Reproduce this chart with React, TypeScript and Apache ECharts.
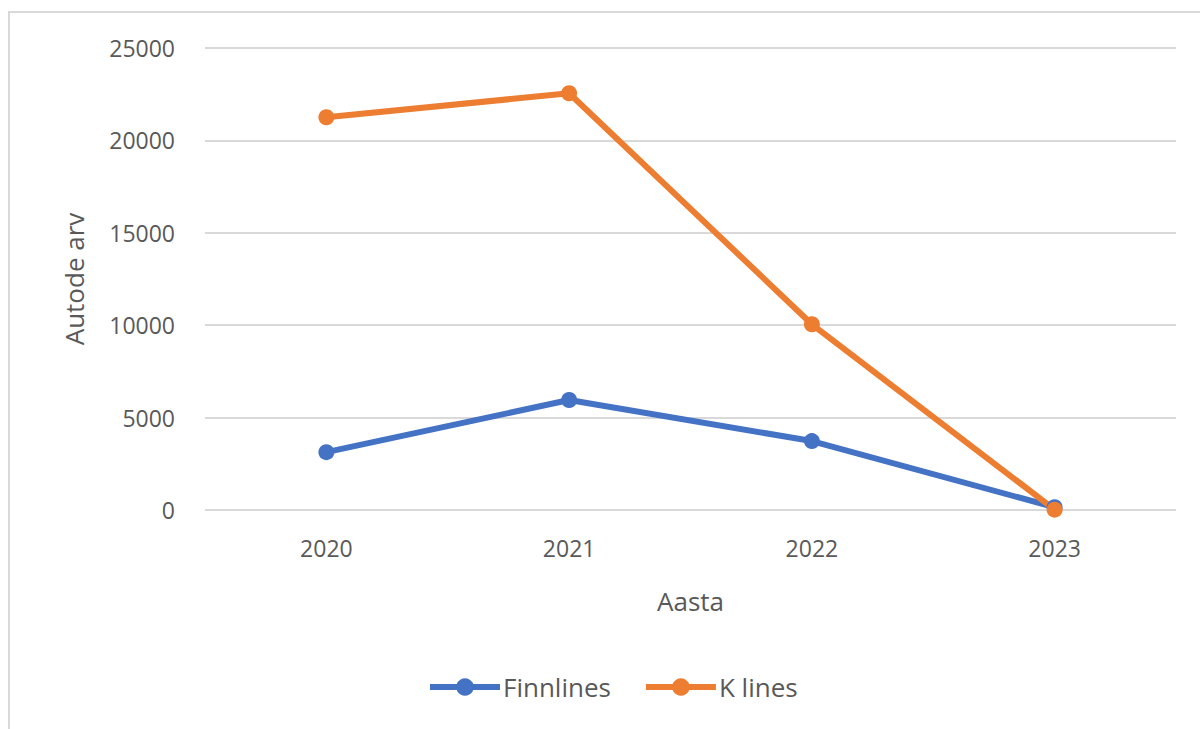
import React, { useEffect, useRef } from "react";
import * as echarts from "echarts";

const years = ["2020", "2021", "2022", "2023"];
const finnlines = [3130, 5950, 3730, 150];
const kLines = [21250, 22550, 10050, 20];

export default function App() {
  const ref = useRef<HTMLDivElement>(null);
  useEffect(() => {
    const chart = echarts.init(ref.current!, null, { renderer: "svg" });
    const font = "'Open Sans', sans-serif";
    chart.setOption({
      animation: false,
      backgroundColor: "#ffffff",
      graphic: [
        {
          type: "rect",
          shape: { x: 9, y: 12, width: 1200, height: 730 },
          style: { fill: "none", stroke: "#d9d9d9", lineWidth: 2 },
        },
      ],
      grid: { left: 205, right: 24, top: 48, bottom: 219 },
      xAxis: {
        type: "category",
        data: years,
        boundaryGap: true,
        name: "Aasta",
        nameLocation: "middle",
        nameGap: 78,
        nameTextStyle: { color: "#595959", fontSize: 26, fontFamily: font },
        axisLine: { show: false },
        axisTick: { show: false },
        axisLabel: { color: "#595959", fontSize: 23, fontFamily: font, margin: 26 },
      },
      yAxis: {
        type: "value",
        min: 0,
        max: 25000,
        interval: 5000,
        name: "Autode arv",
        nameLocation: "middle",
        nameGap: 118,
        nameTextStyle: { color: "#595959", fontSize: 26, fontFamily: font },
        axisLine: { show: false },
        axisTick: { show: false },
        axisLabel: {
          color: "#595959",
          fontSize: 23,
          fontFamily: font,
          margin: 30,
          formatter: (v: number) => String(v),
        },
        splitLine: { lineStyle: { color: "#d9d9d9", width: 2 } },
      },
      legend: {
        bottom: 24,
        left: 422,
        itemWidth: 70,
        itemHeight: 22,
        itemGap: 32,
        lineStyle: { width: 6 },
        textStyle: { color: "#595959", fontSize: 26, fontFamily: font, padding: [0, 0, 0, -2] },
        data: ["Finnlines", "K lines"],
      },
      series: [
        {
          name: "Finnlines",
          type: "line",
          data: finnlines,
          color: "#4472C4",
          symbol: "circle",
          symbolSize: 16,
          lineStyle: { width: 6, color: "#4472C4" },
          itemStyle: { color: "#4472C4" },
        },
        {
          name: "K lines",
          type: "line",
          data: kLines,
          color: "#ED7D31",
          symbol: "circle",
          symbolSize: 16,
          lineStyle: { width: 6, color: "#ED7D31" },
          itemStyle: { color: "#ED7D31" },
        },
      ],
    });
    return () => chart.dispose();
  }, []);
  return (
    <div
      ref={ref}
      style={{ position: "fixed", left: 0, top: 0, width: 1200, height: 729 }}
    />
  );
}
